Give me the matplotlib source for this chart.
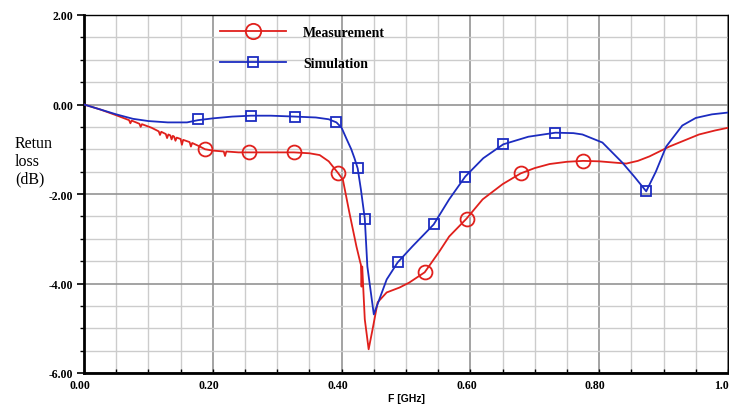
import matplotlib
matplotlib.use("Agg")
import matplotlib.pyplot as plt
import matplotlib.ticker as ticker
import matplotlib.transforms as transforms
from matplotlib.lines import Line2D

# measured return loss (red), with the small glitches of the trace
meas_f = [0.000, 0.025, 0.050, 0.070, 0.072, 0.074, 0.086, 0.088, 0.090,
          0.105, 0.116, 0.118, 0.120, 0.127, 0.129, 0.131, 0.134, 0.136, 0.138,
          0.140, 0.142, 0.144, 0.150, 0.152, 0.154, 0.164, 0.166, 0.168, 0.180,
          0.188, 0.200, 0.217, 0.219, 0.221, 0.240, 0.256, 0.290, 0.326, 0.350,
          0.366, 0.380, 0.395, 0.402, 0.412, 0.423, 0.429, 0.430, 0.431, 0.432,
          0.436, 0.442, 0.448, 0.456, 0.470, 0.490, 0.505, 0.529, 0.552, 0.567,
          0.594, 0.619, 0.650, 0.678, 0.700, 0.723, 0.750, 0.775, 0.800, 0.825,
          0.842, 0.860, 0.878, 0.909, 0.955, 0.980, 1.000]
meas_db = [0.00, -0.11, -0.24, -0.35, -0.42, -0.36, -0.43, -0.50, -0.44,
           -0.52, -0.60, -0.68, -0.61, -0.66, -0.75, -0.67, -0.69, -0.78, -0.70,
           -0.72, -0.81, -0.74, -0.77, -0.90, -0.79, -0.84, -0.94, -0.86, -0.94,
           -1.00, -1.03, -1.05, -1.15, -1.05, -1.07, -1.07, -1.07, -1.07, -1.09,
           -1.13, -1.27, -1.54, -1.68, -2.41, -3.17, -3.53, -3.58, -4.07, -3.62,
           -4.80, -5.47, -5.03, -4.42, -4.20, -4.09, -3.98, -3.75, -3.28, -2.95,
           -2.55, -2.12, -1.78, -1.54, -1.42, -1.33, -1.28, -1.26, -1.27, -1.30,
           -1.32, -1.26, -1.16, -0.94, -0.67, -0.58, -0.52]
meas_mark_f = [0.188, 0.256, 0.326, 0.395, 0.529, 0.594, 0.678, 0.775]
meas_mark_db = [-1.00, -1.07, -1.07, -1.54, -3.75, -2.55, -1.54, -1.27]

# simulated return loss (blue)
sim_f = [0.000, 0.025, 0.050, 0.076, 0.100, 0.130, 0.160, 0.177, 0.200, 0.230,
         0.259, 0.290, 0.327, 0.360, 0.380, 0.392, 0.400, 0.408, 0.415, 0.420,
         0.425, 0.430, 0.436, 0.440, 0.450, 0.470, 0.487, 0.510, 0.543, 0.567,
         0.592, 0.620, 0.651, 0.690, 0.732, 0.760, 0.774, 0.805, 0.836, 0.855,
         0.873, 0.888, 0.904, 0.929, 0.950, 0.975, 1.000]
sim_db = [0.00, -0.11, -0.22, -0.32, -0.37, -0.40, -0.40, -0.35, -0.31, -0.27,
          -0.25, -0.25, -0.27, -0.29, -0.33, -0.40, -0.52, -0.78, -1.00, -1.20,
          -1.43, -1.90, -2.55, -3.62, -4.69, -3.91, -3.53, -3.17, -2.68, -2.12,
          -1.61, -1.20, -0.89, -0.72, -0.63, -0.64, -0.67, -0.85, -1.30, -1.62,
          -1.94, -1.50, -0.94, -0.47, -0.30, -0.22, -0.18]
sim_mark_f = [0.177, 0.259, 0.327, 0.392, 0.425, 0.436, 0.487, 0.543, 0.592,
              0.651, 0.732, 0.873]
sim_mark_db = [-0.335, -0.25, -0.27, -0.40, -1.43, -2.55, -3.53, -2.68, -1.61,
               -0.89, -0.63, -1.94]

red = "#e0201c"
blue = "#1c2cc0"
serif_bold = {"family": "Liberation Serif", "weight": "bold"}

fig = plt.figure(figsize=(7.29, 4.06), dpi=100)
ax = fig.add_axes([84 / 729, 1 - 374 / 406, 644 / 729, 358 / 406])

ax.plot(meas_f, meas_db, color=red, lw=1.3, zorder=3)
ax.plot(meas_mark_f, meas_mark_db, ls="none", marker="o", ms=10, mfc="none",
        mec=red, mew=1.3, zorder=4)
ax.plot(sim_f, sim_db, color=blue, lw=1.3, zorder=3)
ax.plot(sim_mark_f, sim_mark_db, ls="none", marker="s", ms=7, mfc="none",
        mec=blue, mew=1.3, zorder=4)

ax.set_xlim(0, 1)
ax.set_ylim(-6, 2)
ax.xaxis.set_major_locator(ticker.MultipleLocator(0.2))
ax.xaxis.set_minor_locator(ticker.MultipleLocator(0.05))
ax.yaxis.set_major_locator(ticker.MultipleLocator(2))
ax.yaxis.set_minor_locator(ticker.MultipleLocator(0.5))
ax.xaxis.set_major_formatter(ticker.FormatStrFormatter("%.2f"))
ax.yaxis.set_major_formatter(ticker.FormatStrFormatter("%.2f"))

ax.grid(which="major", color="#949494", lw=1.2, zorder=0)
ax.grid(which="minor", color="#cccccc", lw=1.0, zorder=0)
ax.set_axisbelow(True)

ax.tick_params(axis="y", which="major", direction="out", length=5, width=1.2, pad=3)
ax.tick_params(axis="y", which="minor", direction="out", length=3, width=1.0)
ax.tick_params(axis="x", which="both", direction="in", length=3, width=1.0, pad=4)
for lab in ax.get_xticklabels() + ax.get_yticklabels():
    lab.set_fontproperties(serif_bold)
    lab.set_fontsize(8.5)
# labels of the x axis sit a little left of their gridline
shift = transforms.ScaledTranslation(-0.04, 0, fig.dpi_scale_trans)
for lab in ax.get_xticklabels():
    lab.set_transform(lab.get_transform() + shift)

for side in ["left", "bottom"]:
    ax.spines[side].set_linewidth(2.0)
for side in ["top", "right"]:
    ax.spines[side].set_linewidth(1.0)

fig.text(15 / 729, 1 - 162 / 406, "Retun\nloss\n(dB)", family="Liberation Serif",
         fontsize=11.5, ha="left", va="center", linespacing=1.15)
fig.text(406 / 729, 1 - 399 / 406, "F [GHz]", family="Liberation Sans",
         weight="bold", fontsize=7.5, ha="center", va="center")

handles = [Line2D([], [], color=red, lw=1.3, marker="o", ms=11, mfc="none", mec=red, mew=1.3),
           Line2D([], [], color=blue, lw=1.3, marker="s", ms=7, mfc="none", mec=blue, mew=1.3)]
ax.legend(handles, ["Measurement", "Simulation"], loc="upper left",
          bbox_to_anchor=(0.2, 0.99), frameon=False, borderpad=0,
          handlelength=4.8, handletextpad=1.2, labelspacing=1.3,
          prop={"family": "Liberation Serif", "weight": "bold", "size": 10})

fig.savefig("out.png", dpi=100)
